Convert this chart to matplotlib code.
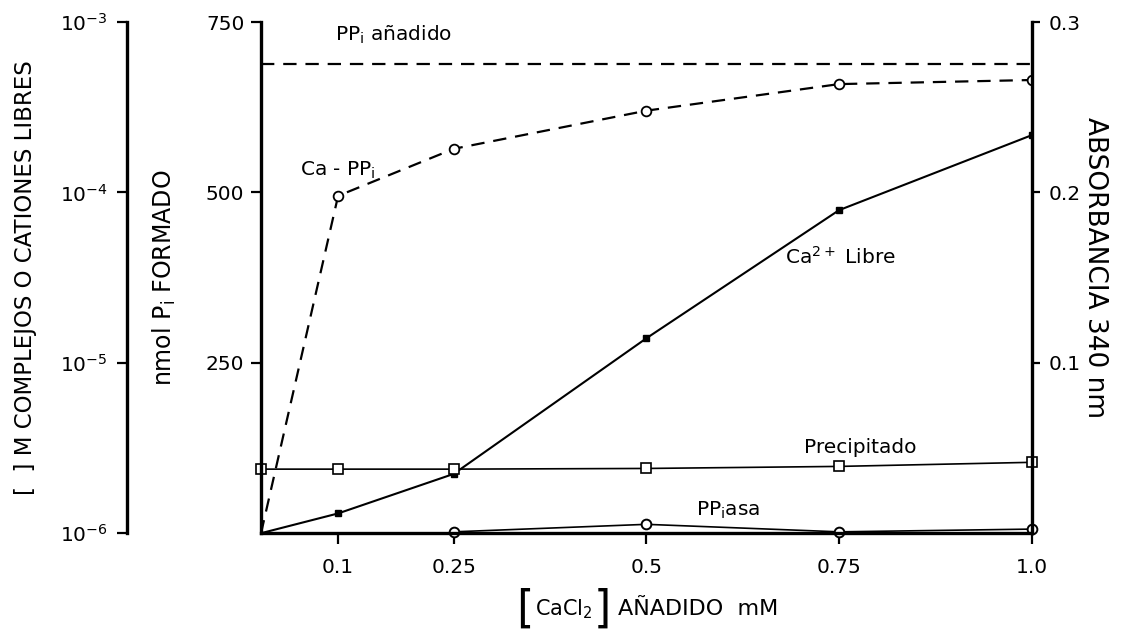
import matplotlib.pyplot as plt
import numpy as np

plt.rcParams['font.family'] = ['DejaVu Sans']
plt.rcParams['mathtext.default'] = 'regular'

# [CaCl2] añadido (mM)
cacl2 = [0.0, 0.1, 0.25, 0.5, 0.75, 1.0]

# nmol Pi formado / escala compartida
ppi_added = 688
ca_ppi = [0, 495, 564, 620, 659, 665]
ca_free = [0, 29, 87, 286, 474, 584]
precip = [94, 94, 94, 95, 98, 104]

ppiasa_x = [0.25, 0.5, 0.75, 1.0]
ppiasa = [2, 13, 2, 6]

left_ticks = [250, 500, 750]
right_ticks = [0.1, 0.2, 0.3]
right_ticklabels = ['0.1', '0.2', '0.3']
x_ticks = [0.1, 0.25, 0.5, 0.75, 1.0]
x_ticklabels = ['0.1', '0.25', '0.5', '0.75', '1.0']
log_ticks = [1e-6, 1e-5, 1e-4, 1e-3]
log_labels = [r'$10^{-6}$', r'$10^{-5}$', r'$10^{-4}$', r'$10^{-3}$']

fig = plt.figure(figsize=(11.3, 6.31), dpi=100)
ax = fig.add_axes([0.231, 0.155, 0.682, 0.81])

lw_sp = 2.4
fs_tick = 14.5
fs_note = 14.5

# curves
ax.axhline(ppi_added, xmin=0, xmax=1, color='black', lw=1.6, ls=(0, (6, 4)))
ax.plot(cacl2, ca_ppi, color='black', lw=1.6, ls=(0, (6, 4)),
        marker='o', mfc='white', mec='black', ms=7, mew=1.3, markevery=[1, 2, 3, 4, 5])
ax.plot(cacl2, ca_free, color='black', lw=1.5, marker='s', mfc='black',
        mec='black', ms=5, markevery=[1, 2, 3, 4, 5])
ax.plot(cacl2, precip, color='black', lw=1.2, marker='s', mfc='white',
        mec='black', ms=7, mew=1.2, clip_on=False)
ax.plot(ppiasa_x, ppiasa, color='black', lw=1.2, marker='o', mfc='white',
        mec='black', ms=7, mew=1.4, clip_on=False)

ax.set_xlim(0, 1.0)
ax.set_ylim(0, 750)
ax.spines['top'].set_visible(False)
ax.spines['right'].set_visible(False)
for s in ['left', 'bottom']:
    ax.spines[s].set_linewidth(lw_sp)
ax.set_xticks(x_ticks)
ax.set_xticklabels(x_ticklabels, fontsize=fs_tick)
ax.set_yticks(left_ticks)
ax.set_yticklabels([str(t) for t in left_ticks], fontsize=fs_tick)
ax.tick_params(axis='y', direction='out', length=7, width=1.6, pad=5)
ax.tick_params(axis='x', direction='out', length=8, width=1.6, pad=10)
ax.set_ylabel(r'nmol P$_i$ FORMADO', fontsize=17, ha='center', va='center')
ax.yaxis.set_label_coords(-0.125, 0.5)

# absorbancia (right)
ax2 = ax.twinx()
ax2.set_ylim(0, 0.3)
ax2.spines['top'].set_visible(False)
ax2.spines['left'].set_visible(False)
ax2.spines['bottom'].set_visible(False)
ax2.spines['right'].set_linewidth(lw_sp)
ax2.set_yticks(right_ticks)
ax2.set_yticklabels(right_ticklabels, fontsize=fs_tick)
ax2.tick_params(axis='y', direction='out', length=6, width=1.6, pad=6)
ax2.set_ylabel('ABSORBANCIA 340 nm', fontsize=19, rotation=-90, ha='center', va='center')
ax2.yaxis.set_label_coords(1.082, 0.52)

# log axis (far left)
ax3 = ax.twinx()
ax3.set_yscale('log')
ax3.set_ylim(1e-6, 1e-3)
for s in ['top', 'right', 'bottom']:
    ax3.spines[s].set_visible(False)
ax3.spines['left'].set_visible(True)
ax3.spines['left'].set_position(('axes', -0.174))
ax3.spines['left'].set_linewidth(lw_sp)
ax3.yaxis.set_ticks_position('left')
ax3.yaxis.set_label_position('left')
ax3.set_yticks(log_ticks)
ax3.set_yticklabels(log_labels, fontsize=fs_tick)
ax3.yaxis.set_minor_locator(plt.NullLocator())
ax3.tick_params(axis='y', direction='out', length=7, width=1.6, pad=7)
ax3.set_ylabel('[  ] M COMPLEJOS O CATIONES LIBRES', fontsize=16.5, ha='center', va='center')
ax3.yaxis.set_label_coords(-0.306, 0.5)

# x label with tall brackets
xl_y = -0.148
ax.text(0.331, xl_y, '[', transform=ax.transAxes, fontsize=32, ha='left', va='center')
ax.text(0.356, xl_y, r'CaCl$_2$', transform=ax.transAxes, fontsize=15, ha='left', va='center')
ax.text(0.432, xl_y, ']', transform=ax.transAxes, fontsize=32, ha='left', va='center')
ax.text(0.463, xl_y, 'AÑADIDO  mM', transform=ax.transAxes, fontsize=16, ha='left', va='center')

# annotations
ax.text(0.096, 722, r'PP$_i$ añadido', fontsize=fs_note)
ax.text(0.05, 524, r'Ca - PP$_i$', fontsize=fs_note)
ax.text(0.68, 396, r'Ca$^{2+}$ Libre', fontsize=fs_note)
ax.text(0.705, 117, 'Precipitado', fontsize=fs_note)
ax.text(0.565, 25, r'PP$_i$asa', fontsize=fs_note)

fig.savefig('out.png', dpi=100)
